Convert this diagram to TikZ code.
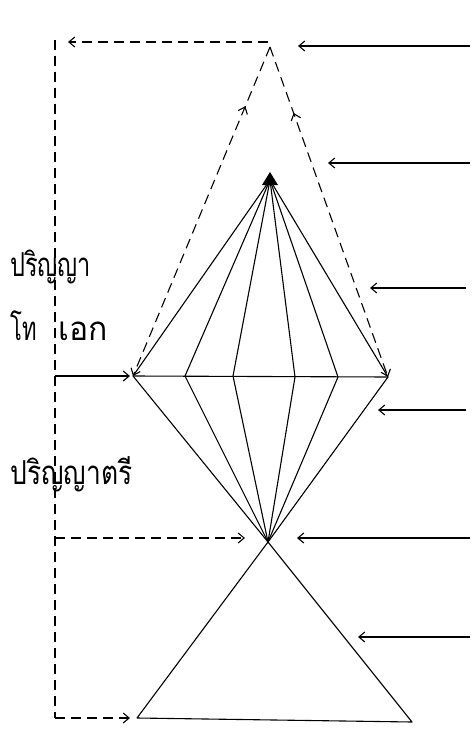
\documentclass[tikz,border=0pt]{standalone}
\usepackage{fontspec}
\newfontfamily\thaifont[Script=Thai]{Loma}
\usetikzlibrary{arrows.meta,decorations.markings}
\begin{document}
\begin{tikzpicture}[x=1pt,y=-1pt,
  ln/.style={line width=1.1pt,line join=round},
  dsh/.style={line width=1.1pt,dash pattern=on 10pt off 6pt},
  tip/.style={-{Straight Barb[length=6pt,width=10pt,line width=1.1pt]}},
  midup/.style={postaction={decorate},decoration={markings,
     mark=at position #1 with {\arrowreversed{Straight Barb[length=6pt,width=10pt,line width=1.1pt]}}}},
  lbl/.style={font=\thaifont\fontsize{22}{24}\selectfont,inner sep=0pt,anchor=base west,yscale=1.5}]
\useasboundingbox (0,0) rectangle (472,733);
% key points
\coordinate (apex) at (270,47);
\coordinate (top) at (270,180);
\coordinate (h1) at (133,376);
\coordinate (h2) at (185,376);
\coordinate (h3) at (233,376);
\coordinate (h4) at (295,377);
\coordinate (h5) at (338,377);
\coordinate (h6) at (388,377);
\coordinate (bot) at (268,542);
\coordinate (b1) at (137,718);
\coordinate (b2) at (412,722);
% left frame points
\coordinate (ftop) at (55,40);
\coordinate (fm) at (55,376);
\coordinate (fl) at (55,538);
\coordinate (fb) at (55,718);
\coordinate (apx) at (268,42);
\coordinate (lt) at (68,42);
\coordinate (lm) at (130,376);
\coordinate (ll) at (245,538);
\coordinate (lb) at (130,718);
% filled top blob
\fill (top) ++(0,-8) -- ++(8,13) -- ++(-16,0) -- cycle;
% diamond
\draw[ln] (h1) -- (h6);
\foreach \p in {h1,h2,h3,h4,h5,h6}{
  \draw[ln] (top) -- (\p);
  \draw[ln] (\p) -- (bot);
}
% lower triangle
\draw[ln] (bot) -- (b1) -- (b2) -- (bot);
% dashed cone with arrows
\draw[dsh,tip,midup=0.18] (apex) -- (h1);
\draw[dsh,tip,midup=0.2] (apex) -- (h6);
% left frame
\draw[dsh] (ftop) -- (fb);
\draw[dsh,tip] (apx) -- (lt);
\draw[ln,tip] (fm) -- (lm);
\draw[dsh,tip] (fl) -- (ll);
\draw[dsh,tip] (fb) -- (lb);
% right arrows
\coordinate (r1) at (470,46); \coordinate (e1) at (298,46);
\coordinate (r2) at (470,163); \coordinate (e2) at (328,163);
\coordinate (r3) at (466,288); \coordinate (e3) at (370,288);
\coordinate (r4) at (466,410); \coordinate (e4) at (378,410);
\coordinate (r5) at (470,538); \coordinate (e5) at (297,538);
\coordinate (r6) at (470,637); \coordinate (e6) at (358,637);
\foreach \i in {1,...,6}{\draw[ln,tip] (r\i) -- (e\i);}
% labels
\node[lbl,xscale=1.07] (t1) at (10,276) {ปริญญา};
\node[lbl] (t2) at (10,340) {โท};
\node[lbl,xscale=1.45] (t3) at (58,340) {เอก};
\node[lbl,xscale=1.2] (t4) at (10,484) {ปริญญาตรี};
\end{tikzpicture}
\end{document}
